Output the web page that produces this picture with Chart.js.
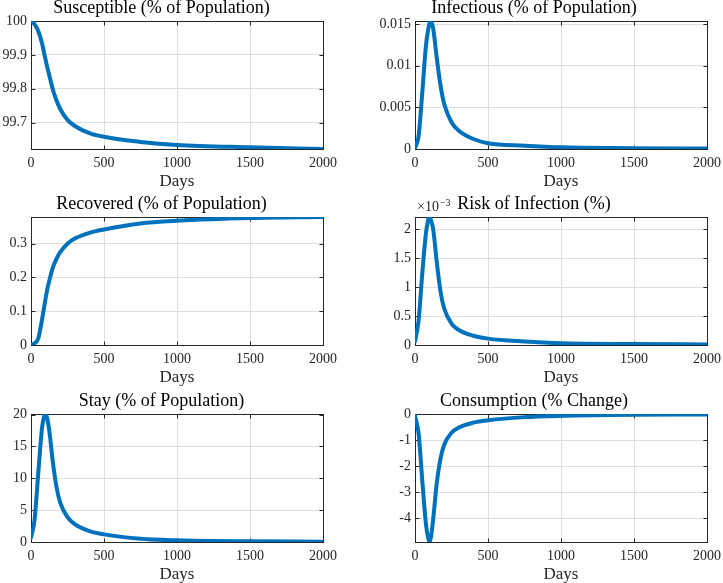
<!DOCTYPE html>
<html>
<head>
<meta charset="utf-8">
<script src="https://cdn.jsdelivr.net/npm/chart.js@4.4.1/dist/chart.umd.min.js"></script>
<style>
  html, body { margin: 0; padding: 0; background: #fff; overflow: hidden; width: 723px; height: 583px; position: relative; }
  canvas { position: absolute; }
</style>
</head>
<body>
<canvas id="p0"></canvas>
<canvas id="p1"></canvas>
<canvas id="p2"></canvas>
<canvas id="p3"></canvas>
<canvas id="p4"></canvas>
<canvas id="p5"></canvas>
<script>
// sample days
const days = [0, 25, 50, 75, 90, 100, 110, 125, 150, 175, 200, 250, 300, 400, 500, 750, 1000, 1500, 2000];

// values
const susceptible = [100.0, 99.99, 99.97, 99.935, 99.905, 99.885, 99.866, 99.84, 99.797, 99.765, 99.74, 99.708, 99.69, 99.669, 99.658, 99.643, 99.634, 99.627, 99.622];
const infectious = [0.0001, 0.0016, 0.0068, 0.0124, 0.0143, 0.0151, 0.01536, 0.0144, 0.0108, 0.0076, 0.0054, 0.0032, 0.0022, 0.0012, 0.0007, 0.0004, 0.0002, 0.0001, 0.00005];
const recovered = [0, 0.005, 0.02, 0.074, 0.112, 0.138, 0.162, 0.19, 0.23, 0.256, 0.275, 0.30, 0.315, 0.332, 0.342, 0.360, 0.368, 0.376, 0.379];
const risk = [0.06, 0.43, 1.24, 1.93, 2.15, 2.21, 2.15, 1.99, 1.41, 0.92, 0.63, 0.37, 0.26, 0.16, 0.11, 0.06, 0.03, 0.017, 0.01]; // x 10^-3
const stay = [0.7, 3.6, 10.9, 17.8, 19.7, 20.1, 19.5, 17.5, 12.5, 8.6, 6.2, 3.9, 2.8, 1.7, 1.2, 0.5, 0.26, 0.1, 0.05];
const consumption = [-0.06, -0.77, -2.56, -4.23, -4.75, -4.9, -4.7, -4.0, -2.6, -1.7, -1.18, -0.72, -0.52, -0.33, -0.24, -0.12, -0.07, -0.03, -0.02];

// tick values
const xTicks = [0, 500, 1000, 1500, 2000];
const susceptibleTicks = [99.7, 99.8, 99.9, 100];
const infectiousTicks = [0, 0.005, 0.01, 0.015];
const recoveredTicks = [0, 0.1, 0.2, 0.3];
const riskTicks = [0, 0.5, 1, 1.5, 2];
const stayTicks = [0, 5, 10, 15, 20];
const consumptionTicks = [-4, -3, -2, -1, 0];

const BLUE = "#0072BD";
const GRID = "#dfdfdf";
const AXIS = "#262626";
const SERIF = "'Liberation Serif', 'DejaVu Serif', serif";

const fmt = v => String(+Number(v).toFixed(6));

// MATLAB-like box with inward ticks on all four sides
const boxPlugin = {
  id: "matlabBox",
  beforeDatasetsDraw(chart) {
    const { ctx, chartArea: a, scales } = chart;
    const L = Math.round(a.left) + 0.5, R = Math.round(a.right) + 0.5;
    const T = Math.round(a.top) + 0.5, B = Math.round(a.bottom) + 0.5;
    ctx.save();
    ctx.strokeStyle = AXIS;
    ctx.lineWidth = 1;
    ctx.strokeRect(L, T, R - L, B - T);
    ctx.beginPath();
    scales.x.ticks.forEach(t => {
      const x = Math.round(scales.x.getPixelForValue(t.value)) + 0.5;
      ctx.moveTo(x, B); ctx.lineTo(x, B - 4);
      ctx.moveTo(x, T); ctx.lineTo(x, T + 4);
    });
    scales.y.ticks.forEach(t => {
      const y = Math.round(scales.y.getPixelForValue(t.value)) + 0.5;
      ctx.moveTo(L, y); ctx.lineTo(L + 4, y);
      ctx.moveTo(R, y); ctx.lineTo(R - 4, y);
    });
    ctx.stroke();
    ctx.restore();
  }
};

// exponent label for the risk panel
const exponentPlugin = {
  id: "exponent",
  afterDraw(chart) {
    const { ctx, chartArea: a } = chart;
    ctx.save();
    ctx.fillStyle = AXIS;
    ctx.textBaseline = "alphabetic";
    ctx.font = "14px " + SERIF;
    const x0 = a.left + 2;
    ctx.fillText("\u00d710", x0, a.top - 6);
    const w = ctx.measureText("\u00d710").width;
    ctx.font = "10px " + SERIF;
    ctx.fillText("\u22123", x0 + w + 1, a.top - 11);
    ctx.restore();
  }
};

const panels = [
  { id: "p0", title: "Susceptible (% of Population)", values: susceptible, ticks: susceptibleTicks, min: 99.622, max: 100, left: 0, top: -2, yw: 31, width: 361 },
  { id: "p1", title: "Infectious (% of Population)", values: infectious, ticks: infectiousTicks, min: 0, max: 0.01536, left: 361, top: -2, yw: 54, width: 380 },
  { id: "p2", title: "Recovered (% of Population)", values: recovered, ticks: recoveredTicks, min: 0, max: 0.379, left: 0, top: 194, yw: 31, width: 361 },
  { id: "p3", title: "Risk of Infection (%)", values: risk, ticks: riskTicks, min: 0, max: 2.21, left: 361, top: 194, yw: 54, width: 380, exp: true },
  { id: "p4", title: "Stay (% of Population)", values: stay, ticks: stayTicks, min: 0, max: 20.1, left: 0, top: 391, yw: 31, width: 361 },
  { id: "p5", title: "Consumption (% Change)", values: consumption, ticks: consumptionTicks, min: -4.91, max: 0, left: 361, top: 391, yw: 54, width: 380 }
];

const PLOT_W = 292;
const PLOT_H = 128;
const X_AXIS_H = 44;
const TITLE_H = 23;

panels.forEach(p => {
  const canvas = document.getElementById(p.id);
  canvas.width = p.width;
  canvas.height = TITLE_H + PLOT_H + X_AXIS_H;
  canvas.style.left = p.left + "px";
  canvas.style.top = p.top + "px";

  const tickFont = { family: SERIF, size: 14 };
  new Chart(canvas, {
    type: "line",
    data: {
      datasets: [{
        data: days.map((d, i) => ({ x: d, y: p.values[i] })),
        borderColor: BLUE,
        borderWidth: 4,
        pointRadius: 0,
        fill: false,
        cubicInterpolationMode: "monotone",
        borderCapStyle: "round",
        borderJoinStyle: "round"
      }]
    },
    options: {
      responsive: false,
      animation: false,
      devicePixelRatio: 1,
      layout: { padding: { left: 0, top: 0, bottom: 0, right: p.width - p.yw - PLOT_W } },
      plugins: {
        legend: { display: false },
        tooltip: { enabled: false },
        title: {
          display: true,
          text: p.title,
          color: "#000",
          font: { family: SERIF, size: 18, weight: "normal", lineHeight: "20px" },
          padding: { top: 0, bottom: 3 }
        }
      },
      scales: {
        x: {
          type: "linear",
          min: 0,
          max: 2000,
          afterBuildTicks: s => { s.ticks = xTicks.map(v => ({ value: v })); },
          afterFit: s => { s.height = X_AXIS_H; },
          grid: { color: GRID, drawTicks: false },
          border: { display: false },
          ticks: { font: tickFont, color: AXIS, padding: 6, maxRotation: 0, autoSkip: false, callback: fmt },
          title: { display: true, text: "Days", color: AXIS, font: { family: SERIF, size: 17, lineHeight: "20px" }, padding: { top: 0, bottom: 1 } }
        },
        y: {
          type: "linear",
          min: p.min,
          max: p.max,
          afterBuildTicks: s => { s.ticks = p.ticks.map(v => ({ value: v })); },
          afterFit: s => { s.width = p.yw; },
          grid: { color: GRID, drawTicks: false },
          border: { display: false },
          ticks: { font: tickFont, color: AXIS, padding: 4, autoSkip: false, callback: fmt }
        }
      }
    },
    plugins: p.exp ? [boxPlugin, exponentPlugin] : [boxPlugin]
  });
});
</script>
</body>
</html>
